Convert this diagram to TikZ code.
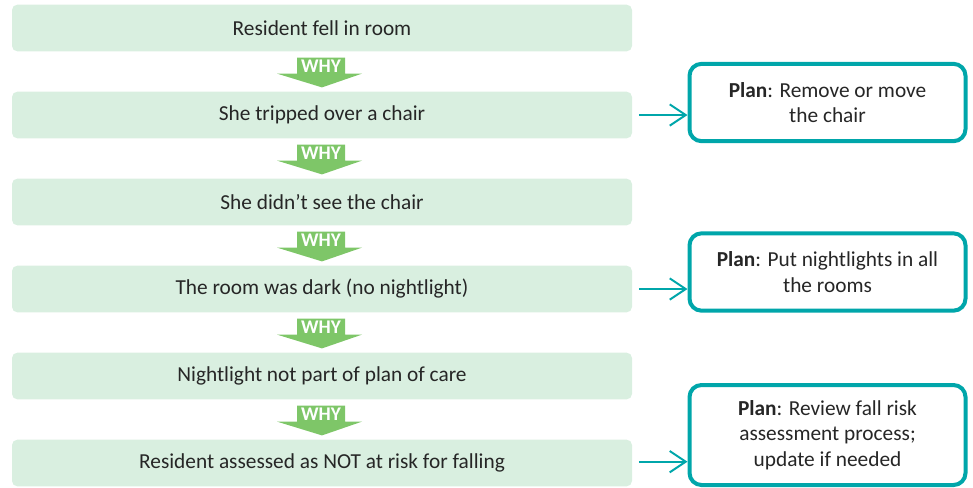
\documentclass[tikz,border=0pt]{standalone}
\usepackage{fontspec}
\setmainfont{Carlito}
\usetikzlibrary{
  arrows.meta,
  positioning,
  calc}
\definecolor{causefill}{RGB}{217,239,224}
\definecolor{whygreen}{RGB}{126,198,104}
\definecolor{planteal}{RGB}{0,166,170}
\tikzset{cause/.style={fill=causefill, rounded corners=4pt, inner sep=0pt,
           minimum width=465pt, minimum height=35pt,
           font=\fontsize{16}{18}\selectfont, text=black!85},
         plan/.style={draw=planteal, line width=3pt, rounded corners=9pt, fill=white,
           inner sep=0pt, minimum width=207pt, minimum height=58pt, align=center,
           font=\fontsize{16}{19}\selectfont, text=black!85},
         whytext/.style={font=\fontsize{14.5}{16}\bfseries\selectfont, text=white, inner sep=0pt},
         link/.style={-{Straight Barb[length=12pt, width=16pt, line width=1.5pt]}, planteal, line width=1.5pt}
        }

\begin{document}
\begin{tikzpicture}[x=0.75pt, y=-0.75pt]
\useasboundingbox (0,0) rectangle (973,487);
% causes
\node[cause] at (322,28)(r1){Resident fell in room};
\node[cause] at (322,115)(r2){She tripped over a chair};
\node[cause] at (322,202)(r3){She didn’t see the chair};
\node[cause] at (322,289)(r4){The room was dark (no nightlight)};
\node[cause] at (322,376)(r5){Nightlight not part of plan of care};
\node[cause] at (322,463)(r6){Resident assessed as NOT at risk for falling};
% why arrows
\foreach \a/\b in {r1/r2, r2/r3, r3/r4, r4/r5, r5/r6}{
  \fill[whygreen] ($(\a.south)+(-25,6)$) -- ++(48,0) -- ++(0,16) -- ++(17,0)
    -- ($(\b.north)+(0,-4)$) -- ($(\a.south)+(-45,22)$) -- ++(20,0) -- cycle;
  \node[whytext] at ($(\a.south)+(-1,15)$) {WHY};
}
% plans
\node[plan] at (827.5,102.5)(p1){\textbf{Plan}: Remove or move\\the chair};
\node[plan] at (827.5,272)(p2){\textbf{Plan}: Put nightlights in all\\the rooms};
\node[plan, minimum height=75pt] at (827.5,435)(p3){\textbf{Plan}: Review fall risk\\assessment process;\\update if needed};
\draw[link]([xshift=5pt]r2.east) -- (r2.east -| p1.west);
\draw[link]([xshift=5pt]r4.east) -- (r4.east -| p2.west);
\draw[link]([xshift=5pt,yshift=1pt]r6.east) -- ([yshift=1pt]r6.east -| p3.west);
\end{tikzpicture}
\end{document}
